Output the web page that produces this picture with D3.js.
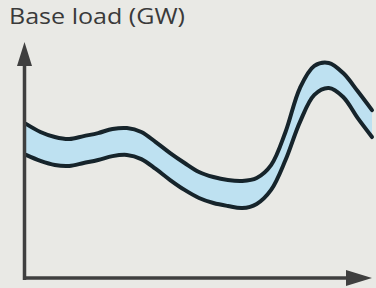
<!DOCTYPE html>
<html>
<head>
<meta charset="utf-8">
<script src="https://cdn.jsdelivr.net/npm/d3@7"></script>
<style>
  body { margin: 0; background: #e9e9e5; }
  svg { display: block; }
</style>
</head>
<body>
<div class="chart"></div>
<script>
// hours of the day
const hours = d3.range(0, 25);
// upper and lower edge of the base load band (relative units)
const upper = [67, 63.5, 61.3, 60.4, 61.7, 63, 64.8, 65.2, 63.5, 59.1, 54.3, 50, 46.1,
  43.9, 42.6, 42.2, 43.5, 49.1, 63.5, 82.6, 92.2, 93.5, 89.1, 81.3, 73];
const lower = [53.5, 50.9, 49.1, 48.7, 50, 51.3, 53, 53.5, 51.7, 47.4, 42.6, 38.3, 34.8,
  32.6, 31.3, 30.4, 32.2, 38.3, 51.3, 67.8, 79.6, 82.6, 78.7, 69.6, 61.3];
const title = "Base load (GW)";

const width = 376, height = 288;

let svg = d3.select(".chart")
  .append("svg")
  .attr("width", width)
  .attr("height", height);

svg.append("rect")
  .attr("width", width).attr("height", height)
  .attr("fill", "#e9e9e5");

// scales
let xScale = d3.scaleLinear().domain([0, 24]).range([26, 372]);
let yScale = d3.scaleLinear().domain([0, 100]).range([278, 48]);

let data = hours.map((h, i) => ({h: h, hi: upper[i], lo: lower[i]}));
const curve = d3.curveCatmullRom.alpha(0.5);

// band fill
svg.append("path")
  .datum(data)
  .attr("fill", "#bee1f1")
  .attr("d", d3.area()
    .x(d => xScale(d.h))
    .y0(d => yScale(d.lo))
    .y1(d => yScale(d.hi))
    .curve(curve));

// band edges
["hi", "lo"].forEach(k => {
  svg.append("path")
    .datum(data)
    .attr("fill", "none")
    .attr("stroke", "#16242b")
    .attr("stroke-width", 4)
    .attr("stroke-linecap", "round")
    .attr("d", d3.line()
      .x(d => xScale(d.h))
      .y(d => yScale(d[k]))
      .curve(curve));
});

// axes with arrow heads
const axisColor = "#3f3f3f";
let x0 = xScale(0) - 1.5, y0 = yScale(0);

svg.append("line")
  .attr("x1", x0).attr("x2", x0)
  .attr("y1", y0 + 2).attr("y2", 60)
  .attr("stroke", axisColor).attr("stroke-width", 3.5);
svg.append("path")
  .attr("d", `M${x0},42 L${x0 - 7.5},66 L${x0 + 7.5},66 Z`)
  .attr("fill", axisColor);

svg.append("line")
  .attr("x1", x0 - 1.5).attr("x2", 350)
  .attr("y1", y0).attr("y2", y0)
  .attr("stroke", axisColor).attr("stroke-width", 3.5);
svg.append("path")
  .attr("d", `M372,${y0} L346,${y0 - 8} L346,${y0 + 8} Z`)
  .attr("fill", axisColor);

// title
svg.append("text")
  .attr("x", 9).attr("y", 24)
  .attr("font-family", "Open Sans, sans-serif")
  .attr("font-size", 22)
  .attr("fill", "#3a3a3a")
  .attr("textLength", 176)
  .attr("lengthAdjust", "spacingAndGlyphs")
  .text(title);
</script>
</body>
</html>
